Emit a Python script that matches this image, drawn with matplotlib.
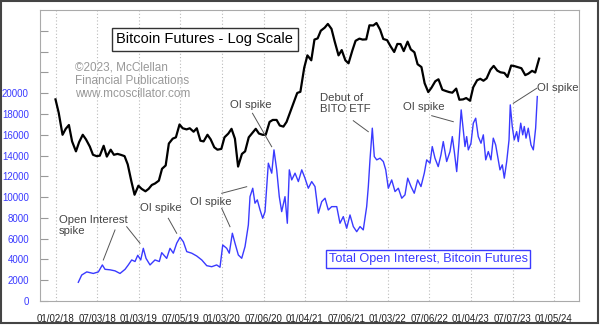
import numpy as np
import pandas as pd
import matplotlib
matplotlib.use('Agg')
import matplotlib.pyplot as plt
from matplotlib.patches import Rectangle
from matplotlib.lines import Line2D
from matplotlib.ticker import NullLocator

plt.rcParams['font.family'] = ['Liberation Sans', 'DejaVu Sans']

# Bitcoin futures price (semi-monthly, 1st and 15th), log scale
btc_dates = pd.date_range('2018-01-01', '2023-11-01', freq='SMS')
btc_price = [
    17000, 13500, 9200, 10200, 10900, 8200, 6900, 8100, 9200, 8500, 7500, 6500,
    6350, 6400, 7600, 6300, 7100, 6500, 6600, 6500, 6350, 5500, 4100, 3250,
    3800, 3600, 3450, 3600, 3850, 3950, 4150, 5100, 5400, 7900, 8600, 8800,
    11000, 10300, 10100, 10300, 9700, 10300, 8300, 8200, 9200, 8500, 7400, 7100,
    7200, 8800, 9400, 10200, 8600, 5300, 6600, 6900, 8800, 9400, 10200, 9400,
    9200, 9200, 11500, 11900, 11900, 10800, 10600, 11500, 13800, 16000, 19000, 19400,
    29500, 36500, 33500, 48000, 49000, 56000, 59000, 63000, 57800, 46500, 36500, 40000,
    33500, 31800, 39800, 47000, 48800, 48000, 48200, 61500, 61300, 64000, 57000, 48500,
    47500, 43000, 38700, 44500, 44400, 39300, 46300, 40500, 38500, 31300, 29800, 22500,
    19300, 20800, 23300, 24100, 20100, 19700, 19300, 19100, 20500, 16900, 17000, 17400,
    16600, 21000, 23700, 24300, 23500, 24500, 28500, 30400, 28000, 27200, 26900, 25100,
    30600, 30300, 29700, 29200, 25900, 26600, 27900, 27100, 34500,
]

# Total open interest (decimal year, contracts)
oi_year = [
    2018.275, 2018.316, 2018.377, 2018.456, 2018.517, 2018.565, 2018.597, 2018.658,
    2018.718, 2018.778, 2018.839, 2018.878, 2018.919, 2018.959, 2018.992, 2019.028,
    2019.059, 2019.092, 2019.140, 2019.200, 2019.252, 2019.281, 2019.341, 2019.381,
    2019.421, 2019.462, 2019.502, 2019.542, 2019.583, 2019.643, 2019.703, 2019.764,
    2019.824, 2019.884, 2019.944, 2019.984, 2020.017, 2020.065, 2020.096, 2020.133,
    2020.165, 2020.205, 2020.246, 2020.286, 2020.326, 2020.346, 2020.379, 2020.406,
    2020.434, 2020.467, 2020.499, 2020.527, 2020.567, 2020.608, 2020.635, 2020.668,
    2020.699, 2020.728, 2020.768, 2020.796, 2020.820, 2020.849, 2020.889, 2020.929,
    2020.970, 2021.009, 2021.049, 2021.090, 2021.130, 2021.170, 2021.211, 2021.251,
    2021.290, 2021.331, 2021.392, 2021.431, 2021.471, 2021.512, 2021.552, 2021.592,
    2021.633, 2021.673, 2021.712, 2021.753, 2021.773, 2021.793, 2021.821, 2021.845,
    2021.874, 2021.914, 2021.954, 2021.983, 2022.014, 2022.055, 2022.095, 2022.135,
    2022.176, 2022.215, 2022.248, 2022.288, 2022.327, 2022.368, 2022.408, 2022.448,
    2022.477, 2022.517, 2022.544, 2022.577, 2022.616, 2022.649, 2022.677, 2022.718,
    2022.758, 2022.786, 2022.810, 2022.839, 2022.866, 2022.893, 2022.918, 2022.939,
    2022.959, 2022.979, 2023.011, 2023.039, 2023.068, 2023.099, 2023.132, 2023.160,
    2023.189, 2023.220, 2023.252, 2023.280, 2023.309, 2023.333, 2023.361, 2023.389,
    2023.413, 2023.442, 2023.470, 2023.485, 2023.509, 2023.533, 2023.562, 2023.582,
    2023.611, 2023.635, 2023.654, 2023.675, 2023.702, 2023.735, 2023.763, 2023.791,
    2023.811,
]
oi_value = [
    1800, 2500, 2800, 2650, 2800, 3470, 3050, 3000,
    2900, 2650, 3050, 3470, 3950, 3800, 4400, 3950,
    5070, 4100, 3470, 3950, 3800, 4650, 4100, 5070,
    4600, 5560, 6130, 5700, 4750, 4600, 4330, 3950,
    3400, 3300, 3470, 3250, 5390, 5070, 4600, 6520,
    5560, 4430, 4110, 5240, 7320, 10040, 10850, 9410,
    9730, 8760, 7960, 8600, 13260, 12300, 14540, 12620,
    10040, 8600, 10040, 7480, 12620, 11650, 12300, 11490,
    12620, 11820, 10850, 11490, 11010, 8450, 9560, 9890,
    8760, 9080, 9080, 7480, 8120, 7000, 8280, 7160,
    6670, 7160, 6840, 9080, 11010, 13580, 16630, 13900,
    13580, 13740, 13420, 12620, 10850, 11650, 10530, 10850,
    9890, 10210, 11820, 11010, 10370, 11650, 11010, 12300,
    13580, 13260, 14860, 13740, 12930, 14060, 15340, 13420,
    14380, 15820, 14380, 12450, 15180, 18390, 16470, 14860,
    15820, 14540, 15180, 17110, 17590, 15820, 15180, 15990,
    13580, 14380, 13580, 15670, 15020, 13900, 12620, 13100,
    11820, 13420, 15500, 18870, 16790, 15500, 16300, 15340,
    17110, 15990, 16790, 15670, 16630, 15020, 14540, 16630,
    19670,
]

tick_dates = ['2018-01-02', '2018-07-03', '2019-01-03', '2019-07-05', '2020-01-03',
              '2020-07-06', '2021-01-04', '2021-07-06', '2022-01-03', '2022-07-06',
              '2023-01-04', '2023-07-07', '2024-01-05']
y_ticks = [0, 2000, 4000, 6000, 8000, 10000, 12000, 14000, 16000, 18000, 20000]


def dec_year(ts):
    ts = pd.Timestamp(ts)
    n = 366 if ts.is_leap_year else 365
    return ts.year + (ts.dayofyear - 1) / n


W, H = 600, 332


def fp(x, y):
    # pixel -> figure fraction
    return x / W, 1 - y / H


fig = plt.figure(figsize=(6, 3.32), dpi=100)
ax = fig.add_axes([40 / W, 31 / H, 539 / W, 291 / H])

ax.plot(oi_year, oi_value, color='#3a3aff', lw=1.0)
ax.set_xlim(2017.813, 2024.314)
ax.set_ylim(0, 28000)

ax.set_yticks(range(0, 28000, 2000))
ax.set_yticklabels([str(v) if v in y_ticks else '' for v in range(0, 28000, 2000)])
ax.tick_params(axis='y', direction='in', length=6, width=0.8, color='#999999',
               labelsize=7, labelcolor='#3a3aff', pad=8)

xt = [dec_year(d) for d in tick_dates]
ax.set_xticks(xt)
ax.set_xticklabels([pd.Timestamp(d).strftime('%m/%d/%y') for d in tick_dates])
ax.tick_params(axis='x', length=0, labelsize=7, labelcolor='#222222', pad=9)
ax.grid(axis='x', color='#bbbbbb', linestyle=(0, (1, 2)), lw=0.8)
for s in ax.spines.values():
    s.set_color('#aaaaaa')
    s.set_linewidth(0.8)

ax2 = ax.twinx()
ax2.set_yscale('log')
btc_x = [dec_year(d) for d in btc_dates]
ax2.plot(btc_x, btc_price, color='black', lw=1.6)
ax2.set_ylim(514, 80200)
ax2.set_yticks([])
ax2.yaxis.set_minor_locator(NullLocator())
for s in ax2.spines.values():
    s.set_visible(False)

# title box
fig.text(*fp(204.7, 39.5), 'Bitcoin Futures - Log Scale', fontsize=10.5, ha='center',
         va='center', color='black',
         bbox=dict(boxstyle='square,pad=0.3', fc='white', ec='#333333', lw=1))

fig.text(*fp(75, 81), '\u00a92023, McClellan\nFinancial Publications\nwww.mcoscillator.com',
         fontsize=8.5, color='#999999', ha='left', va='center', linespacing=1.15)

fig.text(*fp(428.3, 259), 'Total Open Interest, Bitcoin Futures', fontsize=9.1,
         color='#3a3aff', ha='center', va='center',
         bbox=dict(boxstyle='square,pad=0.2', fc='white', ec='#3a3aff', lw=1))

# annotations
notes = [
    ('Open Interest\nspike', 59, 225.8),
    ('OI spike', 140, 207.7),
    ('OI spike', 190, 202.3),
    ('OI spike', 230, 105),
    ('Debut of\nBITO ETF', 320, 103.3),
    ('OI spike', 403.3, 106.7),
    ('OI spike', 537.3, 88.3),
]
for txt, x, y in notes:
    fig.text(*fp(x, y), txt, fontsize=8.2, color='#444444', ha='left', va='center',
             linespacing=1.15)

pointers = [
    ((115, 230), (103.3, 260)),
    ((126.7, 226.7), (140, 243.3)),
    ((168.3, 218.3), (176.7, 233.3)),
    ((221.7, 193.3), (246.7, 186.7)),
    ((221.7, 208.3), (230, 226.7)),
    ((252.5, 113.3), (271.7, 146.7)),
    ((353.3, 120.7), (368.3, 131.7)),
    ((431.7, 115.7), (453.3, 121.7)),
    ((536.7, 88.3), (513.3, 103.3)),
]
for a, b in pointers:
    (x0, y0), (x1, y1) = fp(*a), fp(*b)
    fig.add_artist(Line2D([x0, x1], [y0, y1], color='#555555', lw=0.7))

# outer frame
fig.add_artist(Rectangle((1 / W, 1 - 323 / H), 597 / W, 322 / H, fill=False,
                         ec='#444444', lw=1.5, transform=fig.transFigure))

fig.savefig('out.png', dpi=100)
